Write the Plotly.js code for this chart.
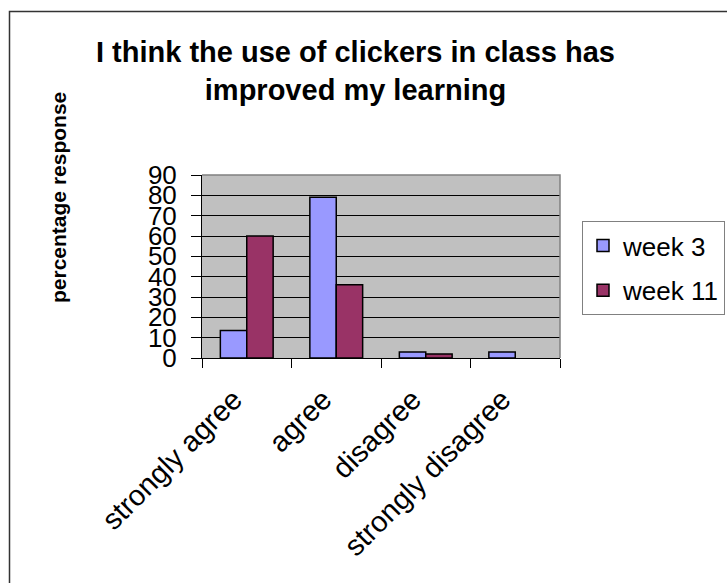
<!DOCTYPE html>
<html>
<head>
<meta charset="utf-8">
<script src="https://cdn.plot.ly/plotly-3.0.1.min.js"></script>
<style>html,body{margin:0;padding:0;background:#fff;}#chart{width:727px;height:583px;}</style>
</head>
<body>
<div id="chart"></div>
<script>
const categories = ["strongly agree", "agree", "disagree", "strongly disagree"];
const week3 = [13.5, 79, 3, 3];
const week11 = [60, 36, 2, 0];
const seriesNames = ["week 3", "week 11"];
const yTicks = [0, 10, 20, 30, 40, 50, 60, 70, 80, 90];
const chartTitle = "I think the use of clickers in class has<br>improved my learning";
const yTitle = "percentage response";

const FONT = "Liberation Sans, Arial, sans-serif";
const L = 202, R = 560, T = 175, B = 358, W = 727, H = 583;
const px = x => (x - L) / (R - L);
const py = y => (B - y) / (B - T);
const edge = v => v.map(d => (d > 0 ? 1.5 : 0));

const traces = [
  {type: "bar", name: seriesNames[0], x: categories, y: week3, legendgroup: "a",
   marker: {color: "#9999FF", line: {color: "#000", width: edge(week3)}}},
  {type: "bar", name: seriesNames[1], x: categories, y: week11, legendgroup: "b",
   marker: {color: "#993366", line: {color: "#000", width: edge(week11)}}}
];

const layout = {
  width: W, height: H,
  margin: {l: L, r: W - R, t: T, b: H - B, pad: 0},
  paper_bgcolor: "#fff",
  plot_bgcolor: "#C0C0C0",
  font: {family: FONT, color: "#000"},
  barmode: "group", bargap: 0.41, bargroupgap: 0,
  showlegend: true,
  xaxis: {type: "category", showgrid: false, showline: true, linecolor: "#000", linewidth: 1,
          ticks: "outside", tickson: "boundaries", ticklen: 9, tickcolor: "#000", tickwidth: 1,
          tickangle: -45, tickfont: {size: 29, family: FONT},
          ticklabelstandoff: 12, ticklabelshift: -13, automargin: false, fixedrange: true},
  yaxis: {range: [0, 90], tickvals: yTicks, ticktext: yTicks.map(String),
          showgrid: true, gridcolor: "#000", gridwidth: 1, zeroline: false,
          showline: true, linecolor: "#000", linewidth: 1,
          ticks: "outside", ticklen: 10, tickcolor: "#000", tickwidth: 1,
          tickfont: {size: 26, family: FONT}, ticklabelstandoff: 9, automargin: false, fixedrange: true},
  legend: {xref: "container", yref: "container", x: 582 / W, y: 1 - 221 / H,
           xanchor: "left", yanchor: "top",
           bgcolor: "#fff", bordercolor: "#808080", borderwidth: 1,
           font: {size: 26, family: FONT}, tracegroupgap: 8, traceorder: "grouped"},
  annotations: [
    {text: "<b>" + chartTitle + "</b>", showarrow: false,
     xref: "paper", yref: "paper", x: px(355), y: py(34), xanchor: "center", yanchor: "top",
     font: {size: 29, family: FONT}},
    {text: "<b>" + yTitle + "</b>", textangle: -90, showarrow: false,
     xref: "paper", yref: "paper", x: px(58), y: py(198), xanchor: "center", yanchor: "middle",
     font: {size: 21, family: FONT}}
  ],
  shapes: [
    {type: "rect", xref: "paper", yref: "paper", x0: px(9.5), y0: py(11.5), x1: px(760), y1: py(620),
     line: {color: "#333", width: 1.5}, layer: "below"},
    {type: "path", xref: "paper", yref: "paper", path: "M0,1 L1,1 L1,0",
     line: {color: "#808080", width: 1.5}, layer: "above"}
  ]
};

Plotly.newPlot("chart", traces, layout, {displayModeBar: false, staticPlot: true});
</script>
</body>
</html>
